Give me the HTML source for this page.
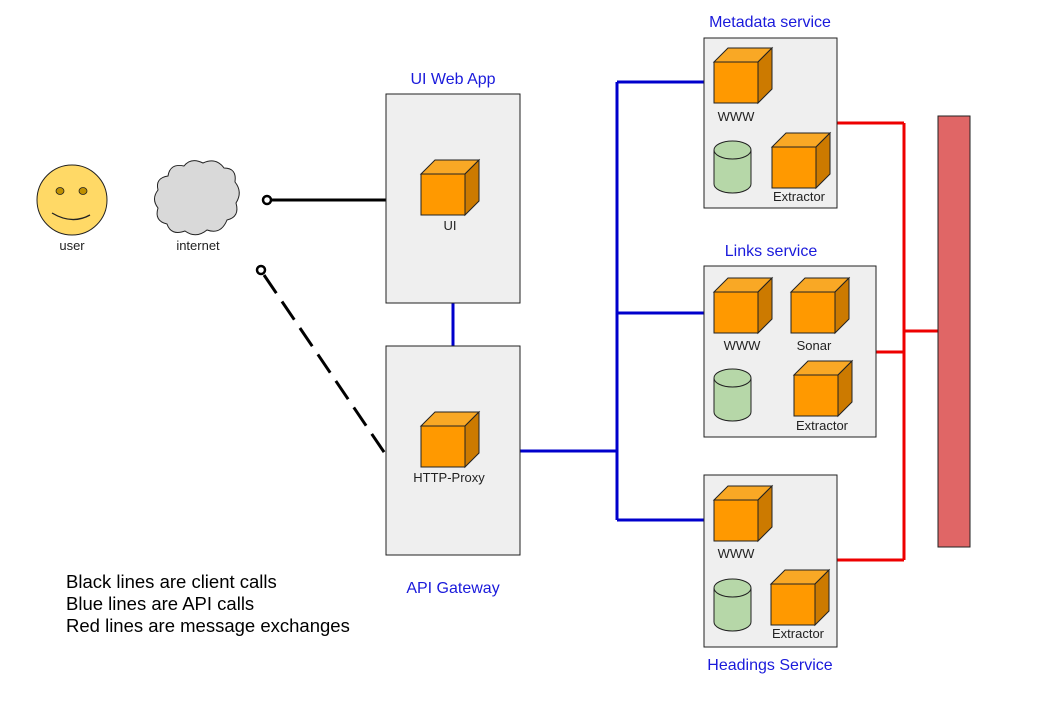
<!DOCTYPE html>
<html><head><meta charset="utf-8"><style>
html,body{margin:0;padding:0;background:#fff;}
svg{display:block;font-family:"Liberation Sans",sans-serif;}
</style></head><body>
<svg width="1059" height="711" viewBox="0 0 1059 711" xmlns="http://www.w3.org/2000/svg">
<defs>
<g id="cube">
<polygon points="0,14 14,0 58,0 44,14" fill="#f9a825" stroke="#222" stroke-width="1"/>
<polygon points="44,14 58,0 58,41 44,55" fill="#cc7a00" stroke="#222" stroke-width="1"/>
<rect x="0" y="14" width="44" height="41" fill="#ff9900" stroke="#222" stroke-width="1"/>
</g>
<g id="cyl">
<path d="M0,10 L0,44 A18.5,9 0 0 0 37,44 L37,10" fill="#b6d7a8" stroke="#222" stroke-width="1"/>
<ellipse cx="18.5" cy="10" rx="18.5" ry="9" fill="#b6d7a8" stroke="#222" stroke-width="1"/>
</g>
</defs>

<!-- user -->
<circle cx="72" cy="200" r="35" fill="#ffd966" stroke="#222" stroke-width="1"/>
<ellipse cx="60" cy="191" rx="4" ry="3.5" fill="#bf9000" stroke="#222" stroke-width="0.8"/>
<ellipse cx="83" cy="191" rx="4" ry="3.5" fill="#bf9000" stroke="#222" stroke-width="0.8"/>
<path d="M52,213 Q72,225 90,215" fill="none" stroke="#222" stroke-width="1.3"/>
<text x="72" y="250" font-size="13" text-anchor="middle" fill="#222">user</text>

<!-- cloud -->
<path d="M168,176 Q170,163 184,166 Q191,157 203,163 Q216,157 224,168 Q237,168 235,182 Q243,192 236,203 Q240,217 227,220 Q221,235 207,230 Q196,239 185,231 Q171,236 167,224 Q154,221 158,208 Q151,199 158,190 Q155,178 168,176 Z" fill="#d9d9d9" stroke="#222" stroke-width="1"/>
<text x="198" y="250" font-size="13" text-anchor="middle" fill="#222">internet</text>

<!-- black lines -->
<line x1="271" y1="200" x2="386" y2="200" stroke="#000" stroke-width="3"/>
<circle cx="267" cy="200" r="4" fill="#fff" stroke="#000" stroke-width="2.5"/>
<line x1="264" y1="275" x2="386" y2="455" stroke="#000" stroke-width="3" stroke-dasharray="22,10"/>
<circle cx="261" cy="270" r="4" fill="#fff" stroke="#000" stroke-width="2.5"/>

<!-- blue lines -->
<g stroke="#0000cc" stroke-width="3" fill="none">
<line x1="453" y1="303" x2="453" y2="346"/>
<polyline points="520,451 617,451"/>
<line x1="617" y1="82" x2="617" y2="520"/>
<line x1="617" y1="82" x2="714" y2="82"/>
<line x1="617" y1="313" x2="714" y2="313"/>
<line x1="617" y1="520" x2="714" y2="520"/>
</g>

<!-- red lines -->
<g stroke="#ee0000" stroke-width="3" fill="none">
<line x1="837" y1="123" x2="904" y2="123"/>
<line x1="904" y1="123" x2="904" y2="560"/>
<line x1="876" y1="352" x2="904" y2="352"/>
<line x1="837" y1="560" x2="904" y2="560"/>
<line x1="904" y1="331" x2="938" y2="331"/>
</g>
<rect x="938" y="116" width="32" height="431" fill="#e06666" stroke="#222" stroke-width="1"/>

<!-- UI Web App -->
<text x="453" y="84" font-size="16" text-anchor="middle" fill="#1a1adb">UI Web App</text>
<rect x="386" y="94" width="134" height="209" fill="#efefef" stroke="#222" stroke-width="1"/>
<use href="#cube" x="421" y="160"/>
<text x="450" y="230" font-size="13" text-anchor="middle" fill="#222">UI</text>

<!-- API Gateway -->
<rect x="386" y="346" width="134" height="209" fill="#efefef" stroke="#222" stroke-width="1"/>
<use href="#cube" x="421" y="412"/>
<text x="449" y="482" font-size="13" text-anchor="middle" fill="#222">HTTP-Proxy</text>
<text x="453" y="593" font-size="16" text-anchor="middle" fill="#1a1adb">API Gateway</text>

<!-- Metadata -->
<text x="770" y="27" font-size="16" text-anchor="middle" fill="#1a1adb">Metadata service</text>
<rect x="704" y="38" width="133" height="170" fill="#efefef" stroke="#222" stroke-width="1"/>
<use href="#cube" x="714" y="48"/>
<text x="736" y="121" font-size="13" text-anchor="middle" fill="#222">WWW</text>
<use href="#cyl" x="714" y="140"/>
<use href="#cube" x="772" y="133"/>
<text x="799" y="201" font-size="13" text-anchor="middle" fill="#222">Extractor</text>

<!-- Links -->
<text x="771" y="256" font-size="16" text-anchor="middle" fill="#1a1adb">Links service</text>
<rect x="704" y="266" width="172" height="171" fill="#efefef" stroke="#222" stroke-width="1"/>
<use href="#cube" x="714" y="278"/>
<text x="742" y="350" font-size="13" text-anchor="middle" fill="#222">WWW</text>
<use href="#cube" x="791" y="278"/>
<text x="814" y="350" font-size="13" text-anchor="middle" fill="#222">Sonar</text>
<use href="#cyl" x="714" y="368"/>
<use href="#cube" x="794" y="361"/>
<text x="822" y="430" font-size="13" text-anchor="middle" fill="#222">Extractor</text>

<!-- Headings -->
<rect x="704" y="475" width="133" height="172" fill="#efefef" stroke="#222" stroke-width="1"/>
<use href="#cube" x="714" y="486"/>
<text x="736" y="558" font-size="13" text-anchor="middle" fill="#222">WWW</text>
<use href="#cyl" x="714" y="578"/>
<use href="#cube" x="771" y="570"/>
<text x="798" y="638" font-size="13" text-anchor="middle" fill="#222">Extractor</text>
<text x="770" y="670" font-size="16" text-anchor="middle" fill="#1a1adb">Headings Service</text>

<!-- legend -->
<text x="66" y="588" font-size="18.5" fill="#000">Black lines are client calls</text>
<text x="66" y="610" font-size="18.5" fill="#000">Blue lines are API calls</text>
<text x="66" y="632" font-size="18.5" fill="#000">Red lines are message exchanges</text>
</svg>
</body></html>
